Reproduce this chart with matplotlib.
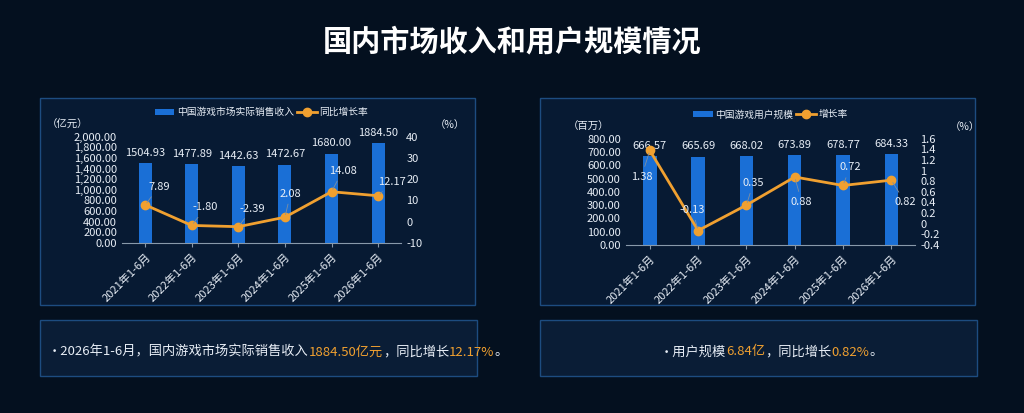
import matplotlib.pyplot as plt
from matplotlib.patches import Rectangle
import numpy as np

plt.rcParams['font.family'] = ['Noto Sans CJK SC', 'DejaVu Sans']

periods = ['2021年1-6月', '2022年1-6月', '2023年1-6月', '2024年1-6月', '2025年1-6月', '2026年1-6月']
revenue = [1504.93, 1477.89, 1442.63, 1472.67, 1680.00, 1884.50]
revenue_growth = [7.89, -1.80, -2.39, 2.08, 14.08, 12.17]
users = [666.57, 665.69, 668.02, 673.89, 678.77, 684.33]
user_growth = [1.38, -0.13, 0.35, 0.88, 0.72, 0.82]

BG = '#04101f'
BAR = '#1a6fd6'
LINE = '#f0a030'
TXT = '#e8eef6'

fig = plt.figure(figsize=(10.24, 4.13), dpi=100)
fig.patch.set_facecolor(BG)

fig.text(0.5, 0.90, '国内市场收入和用户规模情况', ha='center', va='center',
         color='white', fontsize=21, fontweight='bold')

# panel frames
for x0 in (40, 540):
    fig.add_artist(Rectangle((x0 / 1024, 1 - 305 / 413), 435 / 1024, 207 / 413,
                             transform=fig.transFigure, facecolor='#071a33',
                             edgecolor='#1d4c80', lw=1, zorder=0))
    fig.add_artist(Rectangle((x0 / 1024, 1 - 376 / 413), 437 / 1024, 56 / 413,
                             transform=fig.transFigure, facecolor='#0a1d36',
                             edgecolor='#1d4c80', lw=1, zorder=0))


def draw(rect, vals, rates, ylim, yticks, yfmt, rlim, rticks, rlabels,
         unit, bar_name, line_name, rate_offsets, unit_x):
    ax = fig.add_axes(rect)
    ax.set_facecolor('none')
    x = np.arange(len(periods))
    ax.bar(x, vals, width=0.28, color=BAR, label=bar_name, zorder=2)
    for xi, v in zip(x, vals):
        ax.text(xi, v + ylim[1] * 0.05, f'{v:.2f}', ha='center', va='bottom',
                color=TXT, fontsize=8)
    ax.set_ylim(*ylim)
    ax.set_yticks(yticks)
    ax.set_yticklabels([yfmt(t) for t in yticks])
    ax.set_xlim(-0.5, len(periods) - 0.5)
    ax.set_xticks(x)
    ax.set_xticklabels(periods, rotation=45, ha='right', rotation_mode='anchor')
    ax.tick_params(colors=TXT, labelsize=8, length=0)
    ax.tick_params(axis='x', length=3, color='#8899aa')
    for s in ('top', 'right', 'left'):
        ax.spines[s].set_visible(False)
    ax.spines['bottom'].set_color('#8899aa')
    ax.text(unit_x, 1.06, '（' + unit + '）', transform=ax.transAxes, color=TXT,
            fontsize=7.5, ha='left', va='bottom')

    ax2 = ax.twinx()
    ax2.plot(x, rates, color=LINE, lw=2, marker='o', ms=6, label=line_name, zorder=3)
    for xi, r, (dx, dy) in zip(x, rates, rate_offsets):
        ax2.annotate(f'{r:.2f}', (xi, r), xytext=(dx, dy), textcoords='offset points',
                     color=TXT, fontsize=8, ha='center', va='center',
                     arrowprops=dict(arrowstyle='-', color='#7f8fa0', lw=0.6))
    ax2.set_ylim(*rlim)
    ax2.set_yticks(rticks)
    ax2.set_yticklabels(rlabels)
    ax2.tick_params(colors=TXT, labelsize=8, length=0)
    for s in ax2.spines.values():
        s.set_visible(False)
    ax2.text(1.12, 1.06, '（%）', transform=ax2.transAxes, color=TXT, fontsize=7.5,
             va='bottom')

    h1, l1 = ax.get_legend_handles_labels()
    h2, l2 = ax2.get_legend_handles_labels()
    ax.legend(h1 + h2, l1 + l2, loc='lower center', bbox_to_anchor=(0.5, 1.1),
              ncol=2, frameon=False, fontsize=7, labelcolor=TXT,
              handlelength=2, columnspacing=0.3, handletextpad=0.3)
    return ax


draw([0.119, 0.412, 0.273, 0.257], revenue, revenue_growth,
     (0, 2000), np.arange(0, 2001, 200), lambda t: f'{t:,.2f}',
     (-10, 40), np.arange(-10, 41, 10), [str(t) for t in range(-10, 41, 10)],
     '亿元', '中国游戏市场实际销售收入', '同比增长率',
     [(10, 13), (10, 13), (10, 13), (4, 17), (8, 15), (10, 10)], -0.27)

rt = np.round(np.arange(-0.4, 1.61, 0.2), 1)
draw([0.611, 0.407, 0.283, 0.257], users, user_growth,
     (0, 800), np.arange(0, 801, 100), lambda t: f'{t:.2f}',
     (-0.4, 1.6), rt, [f'{t:g}' for t in rt],
     '百万', '中国游戏用户规模', '增长率',
     [(-6, -19), (-4, 15), (5, 16), (5, -18), (5, 13), (10, -16)], -0.2)


def rich_line(x, y, parts):
    r = fig.canvas.get_renderer()
    for s, c in parts:
        t = fig.text(x, y, s, color=c, fontsize=9.5, va='center')
        bb = t.get_window_extent(renderer=r)
        x += bb.width / fig.bbox.width
    return x


rich_line(48 / 1024, 1 - 352 / 413,
          [('・2026年1-6月，国内游戏市场实际销售收入', TXT), ('1884.50亿元', LINE),
           ('，同比增长', TXT), ('12.17%', LINE), ('。', TXT)])
rich_line(660 / 1024, 1 - 352 / 413,
          [('・用户规模', TXT), ('6.84亿', LINE), ('，同比增长', TXT), ('0.82%', LINE), ('。', TXT)])

fig.savefig('out.png', dpi=100, facecolor=BG)
